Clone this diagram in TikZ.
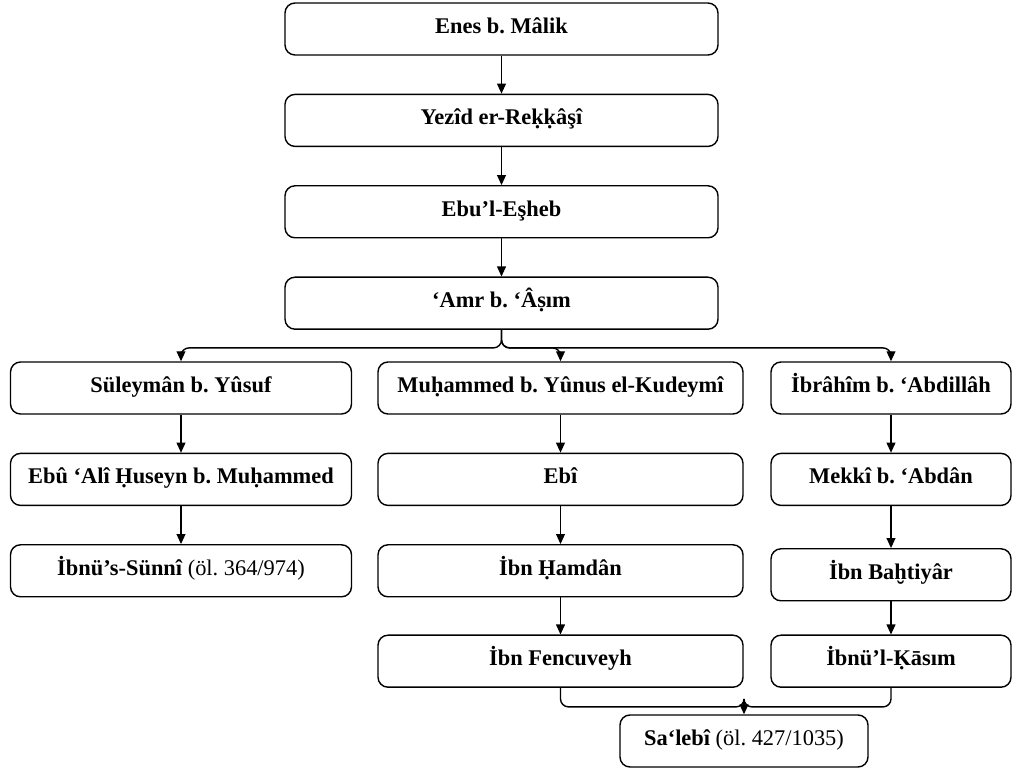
\documentclass[tikz,border=0pt]{standalone}
\usepackage{fontspec}
\setmainfont{Liberation Serif}
\usepackage{tikz}
\usetikzlibrary{positioning}
\usetikzlibrary{arrows.meta}
\tikzstyle{block} = [rectangle, draw, line width=0.7pt, text centered,
    rounded corners=5pt, minimum height=26pt,
    text height=7.6pt, text depth=3pt,
    font=\fontsize{11.2}{13.5}\selectfont\bfseries]
\tikzstyle{line} = [draw, line width=0.7pt, rounded corners=4pt,
    -{Triangle[length=5pt,width=4.4pt]}]
\tikzstyle{mergeline} = [draw, line width=0.7pt, rounded corners=4pt]
\frenchspacing

\begin{document}
\begin{tikzpicture}[node distance = 19pt]
  \useasboundingbox (0,0) rectangle (506.5pt,-384.5pt);

  \node [block, minimum width=216.5pt] (enes) at (250.75pt,-14.5pt) {Enes b. Mâlik};
  \node [block, minimum width=216.5pt, below=of enes] (yezid) {Yezîd er-Reḳḳâşî};
  \node [block, minimum width=216.5pt, below=of yezid] (eshab) {Ebu’l-Eşheb};
  \node [block, minimum width=216.5pt, below=of eshab] (amr) {‘Amr b. ‘Âṣım};

  \node [block, minimum width=170.5pt] (suleyman) at (90.5pt,-194pt) {Süleymân b. Yûsuf};
  \node [block, minimum width=182.5pt] (kudeymi) at (280.25pt,-194pt) {Muḥammed b. Yûnus el-Kudeymî};
  \node [block, minimum width=120pt] (ibrahim) at (445.5pt,-194pt) {İbrâhîm b. ‘Abdillâh};

  \node [block, minimum width=170.5pt, below=of suleyman] (huseyn) {Ebû ‘Alî Ḥuseyn b. Muḥammed};
  \node [block, minimum width=170.5pt, below=of huseyn] (sunni) {İbnü’s-Sünnî {\mdseries (öl. 364/974)}};

  \node [block, minimum width=182.5pt, below=of kudeymi] (ebi) {Ebî};
  \node [block, minimum width=182.5pt, below=of ebi] (hamdan) {İbn Ḥamdân};
  \node [block, minimum width=182.5pt, below=18.5pt of hamdan] (fencuveyh) {İbn Fencuveyh};

  \node [block, minimum width=120pt, below=of ibrahim] (mekki) {Mekkî b. ‘Abdân};
  \node [block, minimum width=120pt, below=21pt of mekki] (bahtiyar) {İbn Baḫtiyâr};
  \node [block, minimum width=120pt, below=16.5pt of bahtiyar] (kasim) {İbnü’l-Ḳāsım};

  \node [block, minimum width=124pt] (salebi) at (372pt,-370.5pt) {Sa‘lebî {\mdseries (öl. 427/1035)}};
  \coordinate (merge) at ([yshift=5pt]salebi.north);

    \path [line] (enes) -- (yezid);
    \path [line] (yezid) -- (eshab);
    \path [line] (eshab) -- (amr);

    \path [line] (amr.south) -- ++(0,-9pt) -| (suleyman.north);
    \path [line] (amr.south) -- ++(0,-9pt) -| (kudeymi.north);
    \path [line] (amr.south) -- ++(0,-9pt) -| (ibrahim.north);

    \path [line] (suleyman) -- (huseyn);
    \path [line] (huseyn) -- (sunni);

    \path [line] (kudeymi) -- (ebi);
    \path [line] (ebi) -- (hamdan);
    \path [line] (hamdan) -- (fencuveyh);

    \path [line] (ibrahim) -- (mekki);
    \path [line] (mekki) -- (bahtiyar);
    \path [line] (bahtiyar) -- (kasim);

  \path [mergeline] (fencuveyh.south) -- ++(0,-9.5pt) -| (merge);
  \path [mergeline] (kasim.south) -- ++(0,-9.5pt) -| (merge);
  \path [line] (merge) -- (salebi);

\end{tikzpicture}
\end{document}
